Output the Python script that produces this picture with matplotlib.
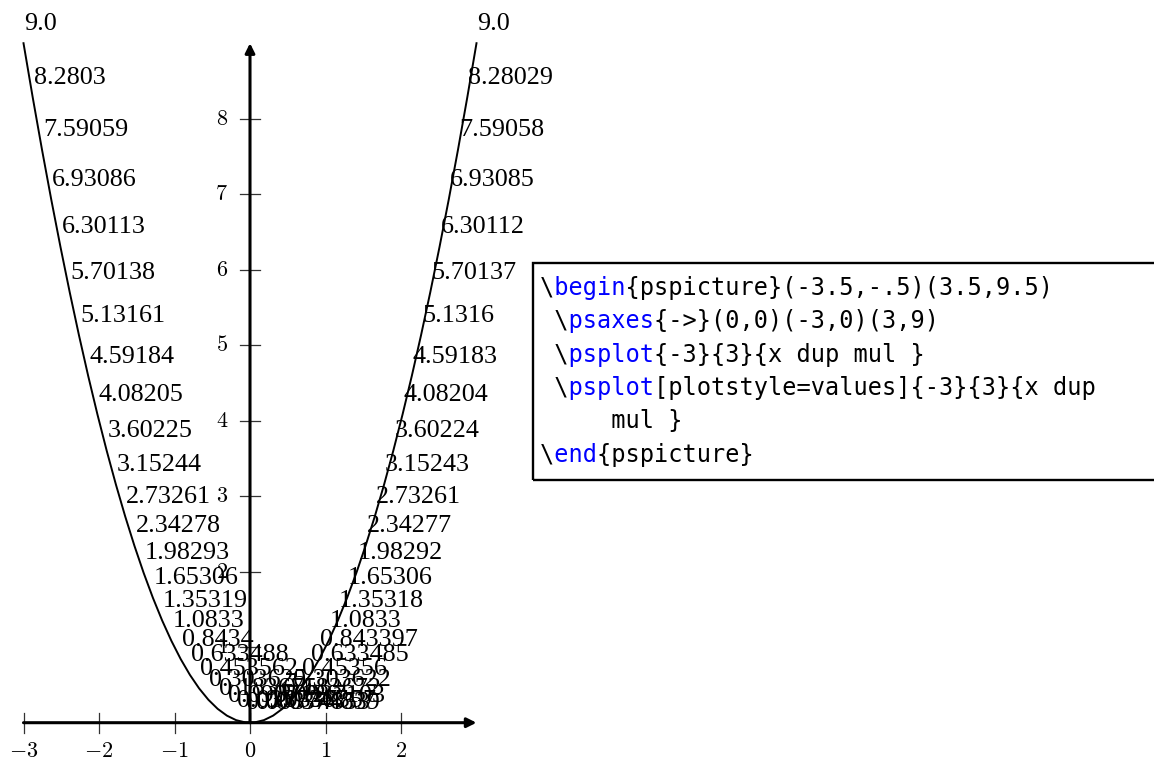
import re
import matplotlib
matplotlib.use("Agg")
import matplotlib.pyplot as plt
from matplotlib.transforms import offset_copy
from matplotlib.patches import Rectangle

plt.rcParams['mathtext.fontset'] = 'cm'

# sample points of psplot (50 points from -3 to 3)
x_values = [-3.0, -2.8776, -2.7551, -2.6327, -2.5102, -2.3878, -2.2653, -2.1429,
            -2.0204, -1.898, -1.7755, -1.6531, -1.5306, -1.4082, -1.2857, -1.1633,
            -1.0408, -0.9184, -0.7959, -0.6735, -0.551, -0.4286, -0.3061, -0.1837,
            -0.0612, 0.0612, 0.1837, 0.3061, 0.4286, 0.551, 0.6735, 0.7959,
            0.9184, 1.0408, 1.1633, 1.2857, 1.4082, 1.5306, 1.6531, 1.7755,
            1.898, 2.0204, 2.1429, 2.2653, 2.3878, 2.5102, 2.6327, 2.7551,
            2.8776, 3.0]
value_labels = ["9.0", "8.2803", "7.59059", "6.93086", "6.30113", "5.70138",
                "5.13161", "4.59184", "4.08205", "3.60225", "3.15244", "2.73261",
                "2.34278", "1.98293", "1.65306", "1.35319", "1.0833", "0.8434",
                "0.633488", "0.453562", "0.303625", "0.183675", "0.0937126",
                "0.0337367", "0.00374853",
                "0.00374839", "0.0337357", "0.0937103", "0.183672", "0.303622",
                "0.45356", "0.633485", "0.843397", "1.0833", "1.35318", "1.65306",
                "1.98292", "2.34277", "2.73261", "3.15243", "3.60224", "4.08204",
                "4.59183", "5.1316", "5.70137", "6.30112", "6.93085", "7.59058",
                "8.28029", "9.0"]
y_values = [float(s) for s in value_labels]

x_ticks = [-3, -2, -1, 0, 1, 2]
y_ticks = [1, 2, 3, 4, 5, 6, 7, 8]

code_lines = [
    r"\begin{pspicture}(-3.5,-.5)(3.5,9.5)",
    r" \psaxes{->}(0,0)(-3,0)(3,9)",
    r" \psplot{-3}{3}{x dup mul }",
    r" \psplot[plotstyle=values]{-3}{3}{x dup",
    r"     mul }",
    r"\end{pspicture}",
]

W, H = 1154, 762
fig = plt.figure(figsize=(W / 100, H / 100), dpi=100)
ax = fig.add_axes([0, 0, 1, 1])
ax.axis('off')

# pixel mapping: x=0 at 250px, y=0 at 722.7px from top, ~75.5 px per unit
unit = 75.5
ax.set_xlim(-250 / unit, (W - 250) / unit)
ax.set_ylim(-(H - 722.7) / unit, 722.7 / unit)

# axes with arrows
arrow = dict(arrowstyle='-|>', lw=2.2, color='black', mutation_scale=14,
             shrinkA=0, shrinkB=0)
ax.annotate('', xy=(3, 0), xytext=(-3, 0), arrowprops=arrow)
ax.annotate('', xy=(0, 9), xytext=(0, 0), arrowprops=arrow)

tick_half = 10 / unit
for t in x_ticks:
    ax.plot([t, t], [-tick_half, tick_half], color='#333333', lw=0.9)
    ax.text(t, 0, f"${t}$", transform=offset_copy(ax.transData, fig=fig, x=0, y=-28, units='dots'),
            ha='center', va='center', fontsize=16)
for t in y_ticks:
    ax.plot([-tick_half, tick_half], [t, t], color='#333333', lw=0.9)
    ax.text(0, t, f"${t}$", transform=offset_copy(ax.transData, fig=fig, x=-22, y=0, units='dots'),
            ha='right', va='center', fontsize=16)

# the parabola
ax.plot(x_values, y_values, color='black', lw=1.4)

# values plotstyle labels
lab_tr = offset_copy(ax.transData, fig=fig, x=1, y=13.5, units='dots')
for xv, yv, s in zip(x_values, y_values, value_labels):
    ax.text(xv, yv, s, transform=lab_tr, ha='left', va='baseline',
            fontsize=18.8, family='Liberation Serif')

# code listing box
box_left, box_top, box_bottom = 533, 263, 480
fig.patches.append(Rectangle((box_left, H - box_bottom), 700, box_bottom - box_top,
                             transform=None, fill=False, lw=1.7, edgecolor='black'))

for i, line in enumerate(code_lines):
    black = list(line)
    blue = [' '] * len(line)
    for m in re.finditer(r'\\([A-Za-z]+)', line):
        for k in range(m.start(1), m.end(1)):
            blue[k] = line[k]
            black[k] = ' '
    y = H - (294.5 + i * 33.5)
    for chars, col in ((black, 'black'), (blue, '#0000ff')):
        fig.text(540 / W, y / H, ''.join(chars), color=col, family='DejaVu Sans Mono',
                 fontsize=17, ha='left', va='baseline')

fig.savefig('out.png', dpi=100)
